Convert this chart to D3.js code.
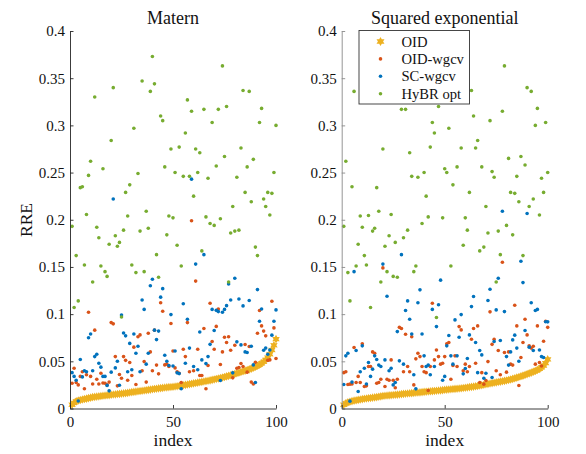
<!DOCTYPE html>
<html>
<head>
<meta charset="utf-8">
<script src="https://cdn.jsdelivr.net/npm/d3@7"></script>
<style>
  html, body { margin: 0; padding: 0; background: #fff; }
  svg text { font-family: "Liberation Serif", "Times New Roman", Tinos, "DejaVu Serif", serif !important; }
</style>
</head>
<body>
<div id="root"></div>
<script>
// ---------------------------------------------------------------------
// data (index 1..100 per panel)
var index = d3.range(1, 101);
var yTicks = [0, 0.05, 0.1, 0.15, 0.2, 0.25, 0.3, 0.35, 0.4];
var xTicks = [0, 50, 100];
var seriesNames = ["OID", "OID-wgcv", "SC-wgcv", "HyBR opt"];

// Matern
var maternOID = [
  0.004, 0.006, 0.0075, 0.0085, 0.009, 0.0095, 0.010, 0.0105, 0.011, 0.0115,
  0.012, 0.0123, 0.0126, 0.0129, 0.0132, 0.0135, 0.0137, 0.014, 0.0142, 0.0145,
  0.0148, 0.015, 0.0153, 0.0155, 0.0158, 0.016, 0.0163, 0.0166, 0.017, 0.0173,
  0.0176, 0.0179, 0.0182, 0.0185, 0.0188, 0.0191, 0.0194, 0.0197, 0.020, 0.0204,
  0.0207, 0.021, 0.0213, 0.0216, 0.0219, 0.0222, 0.0224, 0.0226, 0.0228, 0.023,
  0.0233, 0.0236, 0.0239, 0.0242, 0.0246, 0.025, 0.0254, 0.0258, 0.0262, 0.0266,
  0.027, 0.0274, 0.0278, 0.0282, 0.0286, 0.029, 0.0294, 0.0298, 0.0303, 0.0308,
  0.0313, 0.0318, 0.0323, 0.0328, 0.0334, 0.034, 0.0346, 0.0352, 0.0359, 0.0366,
  0.0373, 0.038, 0.0387, 0.0394, 0.0401, 0.0408, 0.0415, 0.0423, 0.0432, 0.0442,
  0.0453, 0.0465, 0.0478, 0.0495, 0.0515, 0.054, 0.0575, 0.062, 0.067, 0.0735
];
var maternOIDwgcv = [
  0.0268, 0.0427, 0.0275, 0.025, 0.034, 0.039, 0.021, 0.0357, 0.102, 0.034,
  0.026, 0.083, 0.031, 0.026, 0.0374, 0.027, 0.0268, 0.025, 0.028, 0.091,
  0.0897, 0.055, 0.024, 0.036, 0.032, 0.055, 0.051, 0.030, 0.0487, 0.035,
  0.065, 0.0254, 0.076, 0.078, 0.040, 0.0497, 0.028, 0.0798, 0.060, 0.040,
  0.083, 0.046, 0.0367, 0.112, 0.103, 0.0462, 0.047, 0.0445, 0.090, 0.061,
  0.043, 0.039, 0.0374, 0.0275, 0.0628, 0.055, 0.091, 0.039, 0.199, 0.040,
  0.135, 0.0628, 0.035, 0.035, 0.0847, 0.021, 0.0455, 0.1115, 0.071, 0.0628,
  0.087, 0.1055, 0.0466, 0.060, 0.0755, 0.070, 0.076, 0.0618, 0.0325, 0.067,
  0.0427, 0.0434, 0.0477, 0.0445, 0.0678, 0.0385, 0.0657, 0.028, 0.026, 0.049,
  0.0798, 0.1038, 0.0875, 0.082, 0.077, 0.051, 0.0515, 0.1137, 0.0854, 0.053
];
var maternSCwgcv = [
  0.038, 0.034, 0.030, 0.008, 0.052, 0.0335, 0.040, 0.039, 0.075, 0.079,
  0.040, 0.055, 0.0575, 0.048, 0.0438, 0.034, 0.034, 0.0245, 0.0187, 0.0385,
  0.222, 0.043, 0.050, 0.0247, 0.099, 0.080, 0.077, 0.039, 0.069, 0.041,
  0.079, 0.0586, 0.066, 0.039, 0.115, 0.105, 0.047, 0.0586, 0.130, 0.137,
  0.083, 0.073, 0.082, 0.118, 0.127, 0.0565, 0.050, 0.0455, 0.0995, 0.045,
  0.061, 0.0378, 0.037, 0.021, 0.111, 0.048, 0.0946, 0.064, 0.243, 0.0445,
  0.153, 0.041, 0.081, 0.0515, 0.163, 0.0476, 0.055, 0.068, 0.105, 0.0826,
  0.104, 0.1027, 0.0297, 0.102, 0.105, 0.109, 0.132, 0.115, 0.0378, 0.138,
  0.0706, 0.116, 0.0674, 0.1087, 0.060, 0.0593, 0.1144, 0.066, 0.0462, 0.0276,
  0.126, 0.0925, 0.1055, 0.0618, 0.064, 0.0575, 0.062, 0.0777, 0.0925, 0.1045
];
var maternHyBR = [
  0.193, 0.107, 0.162, 0.114, 0.234, 0.235, 0.152, 0.2055, 0.247, 0.262,
  0.134, 0.330, 0.192, 0.181, 0.151, 0.254, 0.145, 0.140, 0.174, 0.284,
  0.340, 0.183, 0.172, 0.176, 0.097, 0.189, 0.229, 0.204, 0.237, 0.152,
  0.297, 0.144, 0.249, 0.188, 0.347, 0.145, 0.209, 0.191, 0.336, 0.373,
  0.344, 0.163, 0.139, 0.310, 0.305, 0.256, 0.184, 0.204, 0.275, 0.202,
  0.250, 0.173, 0.277, 0.151, 0.246, 0.292, 0.327, 0.246, 0.315, 0.225,
  0.275, 0.250, 0.271, 0.167, 0.317, 0.203, 0.244, 0.196, 0.303, 0.194,
  0.257, 0.317, 0.201, 0.363, 0.267, 0.320, 0.134, 0.186, 0.214, 0.188,
  0.245, 0.189, 0.276, 0.337, 0.229, 0.256, 0.336, 0.219, 0.264, 0.171,
  0.162, 0.303, 0.318, 0.222, 0.214, 0.229, 0.205, 0.228, 0.250, 0.300
];

// Squared exponential
var sqexpOID = [
  0.004, 0.0055, 0.0065, 0.0072, 0.0078, 0.0083, 0.0087, 0.0091, 0.0095, 0.0099,
  0.0103, 0.0106, 0.0109, 0.0112, 0.0115, 0.0118, 0.0121, 0.0125, 0.0129, 0.0133,
  0.0135, 0.0137, 0.0139, 0.0141, 0.0143, 0.0145, 0.0147, 0.0149, 0.0152, 0.0155,
  0.0157, 0.0159, 0.0161, 0.0163, 0.0165, 0.0167, 0.0169, 0.0171, 0.0173, 0.0176,
  0.0178, 0.018, 0.0182, 0.0184, 0.0186, 0.0188, 0.019, 0.0192, 0.0195, 0.0198,
  0.020, 0.0202, 0.0204, 0.0206, 0.0208, 0.021, 0.0212, 0.0214, 0.0217, 0.022,
  0.0223, 0.0226, 0.0229, 0.0232, 0.0235, 0.0239, 0.0243, 0.0247, 0.0252, 0.0257,
  0.0261, 0.0265, 0.0269, 0.0273, 0.0277, 0.0281, 0.0285, 0.0289, 0.0293, 0.0297,
  0.0302, 0.0308, 0.0314, 0.032, 0.0327, 0.0334, 0.0341, 0.0348, 0.0356, 0.0364,
  0.0372, 0.038, 0.0389, 0.0398, 0.0408, 0.042, 0.0435, 0.0455, 0.048, 0.052
];
var sqexpOIDwgcv = [
  0.038, 0.039, 0.0254, 0.0258, 0.026, 0.0646, 0.0275, 0.034, 0.0275, 0.0685,
  0.0233, 0.024, 0.0445, 0.0445, 0.060, 0.0586, 0.0268, 0.0275, 0.031, 0.149,
  0.0233, 0.031, 0.030, 0.0515, 0.030, 0.022, 0.031, 0.086, 0.0847, 0.039,
  0.0787, 0.0445, 0.039, 0.076, 0.025, 0.0526, 0.0586, 0.055, 0.0445, 0.039,
  0.038, 0.019, 0.0445, 0.1115, 0.0515, 0.062, 0.055, 0.047, 0.048, 0.055,
  0.0685, 0.070, 0.031, 0.0455, 0.0558, 0.0445, 0.0868, 0.0833, 0.040, 0.047,
  0.039, 0.0445, 0.0734, 0.0847, 0.048, 0.0875, 0.0275, 0.038, 0.0258, 0.0297,
  0.0497, 0.1024, 0.068, 0.0734, 0.040, 0.0614, 0.0357, 0.155, 0.0593, 0.0385,
  0.060, 0.047, 0.046, 0.1094, 0.0875, 0.0244, 0.054, 0.070, 0.0946, 0.078,
  0.0664, 0.064, 0.066, 0.047, 0.0875, 0.0487, 0.045, 0.0713, 0.0925, 0.086
];
var sqexpSCwgcv = [
  0.0254, 0.0558, 0.0586, 0.0078, 0.028, 0.145, 0.0614, 0.018, 0.039, 0.0664,
  0.0427, 0.026, 0.0487, 0.034, 0.0417, 0.0558, 0.052, 0.046, 0.0445, 0.153,
  0.0515, 0.119, 0.040, 0.0427, 0.025, 0.0275, 0.0815, 0.0505, 0.163, 0.047,
  0.1038, 0.114, 0.0946, 0.079, 0.0357, 0.0208, 0.112, 0.1257, 0.079, 0.0558,
  0.0445, 0.046, 0.0357, 0.105, 0.0445, 0.0868, 0.110, 0.136, 0.030, 0.034,
  0.0664, 0.0773, 0.0558, 0.047, 0.0939, 0.0558, 0.0755, 0.0995, 0.0367, 0.0424,
  0.053, 0.078, 0.108, 0.1186, 0.070, 0.038, 0.0614, 0.0568, 0.032, 0.0374,
  0.1144, 0.1264, 0.0328, 0.071, 0.1045, 0.138, 0.072, 0.209, 0.1027, 0.055,
  0.046, 0.060, 0.0727, 0.0777, 0.064, 0.050, 0.156, 0.1334, 0.0826, 0.2066,
  0.065, 0.112, 0.0614, 0.1038, 0.105, 0.062, 0.055, 0.054, 0.092, 0.0918
];
var sqexpHyBR = [
  0.193, 0.262, 0.144, 0.114, 0.235, 0.336, 0.151, 0.174, 0.204, 0.192,
  0.162, 0.152, 0.2045, 0.107, 0.188, 0.191, 0.234, 0.209, 0.134, 0.275,
  0.172, 0.145, 0.183, 0.2055, 0.140, 0.176, 0.139, 0.345, 0.317, 0.181,
  0.317, 0.189, 0.271, 0.246, 0.145, 0.151, 0.245, 0.355, 0.196, 0.250,
  0.225, 0.203, 0.277, 0.303, 0.292, 0.0964, 0.320, 0.365, 0.202, 0.254,
  0.250, 0.297, 0.151, 0.237, 0.340, 0.256, 0.375, 0.276, 0.173, 0.202,
  0.189, 0.229, 0.337, 0.310, 0.276, 0.284, 0.167, 0.256, 0.171, 0.214,
  0.186, 0.305, 0.251, 0.245, 0.134, 0.188, 0.163, 0.315, 0.363, 0.194,
  0.265, 0.229, 0.184, 0.228, 0.246, 0.219, 0.267, 0.162, 0.258, 0.340,
  0.214, 0.336, 0.222, 0.300, 0.318, 0.205, 0.244, 0.229, 0.303, 0.250
];
// ---------------------------------------------------------------------

var colors = ["#EDB120", "#D95319", "#0072BD", "#77AC30"];
var W = 586, H = 454;
var serif = "'Liberation Serif', 'Times New Roman', Tinos, 'DejaVu Serif', serif";
var svg = d3.select("#root").append("svg").attr("width", W).attr("height", H);

var yScale = d3.scaleLinear().domain([0, 0.4]).range([408.5, 31]);

// six-pointed star like matlab's hexagram marker
function hexagram(r) {
  var pts = [];
  for (var k = 0; k < 12; k++) {
    var a = -Math.PI / 2 + k * Math.PI / 6;
    var rr = (k % 2 === 0) ? r : r * 0.56;
    pts.push([rr * Math.cos(a), rr * Math.sin(a)]);
  }
  return "M" + pts.map(function(p) { return p[0].toFixed(2) + "," + p[1].toFixed(2); }).join("L") + "Z";
}
var starPath = hexagram(4.3);

function panel(cfg) {
  var x = d3.scaleLinear().domain([0, 100]).range([cfg.left, cfg.left + 206]);
  var g = svg.append("g");

  // OID stars
  g.append("g").selectAll("path")
    .data(index)
    .enter().append("path")
    .attr("d", starPath)
    .attr("transform", function(d, i) { return "translate(" + x(d) + "," + yScale(cfg.series[0][i]) + ")"; })
    .style("fill", colors[0]);

  // dot series
  [1, 2, 3].forEach(function(s) {
    g.append("g").selectAll("circle")
      .data(index)
      .enter().append("circle")
      .attr("cx", function(d) { return x(d); })
      .attr("cy", function(d, i) { return yScale(cfg.series[s][i]); })
      .attr("r", 1.8)
      .style("fill", colors[s]);
  });

  // axes, ticks pointing inward
  var ya = g.append("g")
    .attr("transform", "translate(" + cfg.left + ",0)")
    .call(d3.axisLeft(yScale).tickValues(yTicks).tickFormat(d3.format("")).tickSizeInner(-3.5).tickSizeOuter(0).tickPadding(5));
  ya.selectAll("path, line").style("stroke", cfg.yAxisColor).style("stroke-width", 0.9);

  var xa = g.append("g")
    .attr("transform", "translate(0," + yScale(0) + ")")
    .call(d3.axisBottom(x).tickValues(xTicks).tickFormat(d3.format("d")).tickSizeInner(-3.5).tickSizeOuter(0).tickPadding(8));
  xa.selectAll("path, line").style("stroke", "#262626").style("stroke-width", 0.9);

  ya.attr("font-family", serif).attr("font-size", 15);
  xa.attr("font-family", serif).attr("font-size", 15);
  g.selectAll(".tick text").attr("font-family", serif).style("fill", "#111");

  // title and x label
  g.append("text")
    .attr("x", x(50)).attr("y", 23.5)
    .attr("text-anchor", "middle")
    .attr("font-family", serif)
    .style("font-size", "18px").style("fill", "#111")
    .text(cfg.title);
  g.append("text")
    .attr("x", x(50)).attr("y", 446)
    .attr("text-anchor", "middle")
    .attr("font-family", serif)
    .style("font-size", "17.5px").style("fill", "#111")
    .text("index");
  return g;
}

panel({ left: 70, title: "Matern", yAxisColor: "#262626",
        series: [maternOID, maternOIDwgcv, maternSCwgcv, maternHyBR] });
panel({ left: 341.7, title: "Squared exponential", yAxisColor: "#8a8a8a",
        series: [sqexpOID, sqexpOIDwgcv, sqexpSCwgcv, sqexpHyBR] });

// y label
svg.append("text")
  .attr("transform", "translate(32,220) rotate(-90)")
  .attr("text-anchor", "middle")
  .attr("font-family", serif)
  .style("font-size", "17.5px").style("fill", "#111")
  .text("RRE");

// legend on the right panel
var leg = svg.append("g").attr("transform", "translate(359,30.5)");
leg.append("rect")
  .attr("width", 110.5).attr("height", 73.5)
  .style("fill", "#fff").style("stroke", "#333").style("stroke-width", 0.9);
seriesNames.forEach(function(name, i) {
  var yy = 11 + i * 17.4;
  if (i === 0) {
    leg.append("path").attr("d", hexagram(4.6))
      .attr("transform", "translate(21.5," + yy + ")")
      .style("fill", colors[0]);
  } else {
    leg.append("circle").attr("cx", 21.5).attr("cy", yy).attr("r", 1.8).style("fill", colors[i]);
  }
  leg.append("text")
    .attr("x", 42.5).attr("y", yy + 5)
    .attr("font-family", serif)
    .style("font-size", "14.6px").style("fill", "#111")
    .text(name);
});
</script>
</body>
</html>
